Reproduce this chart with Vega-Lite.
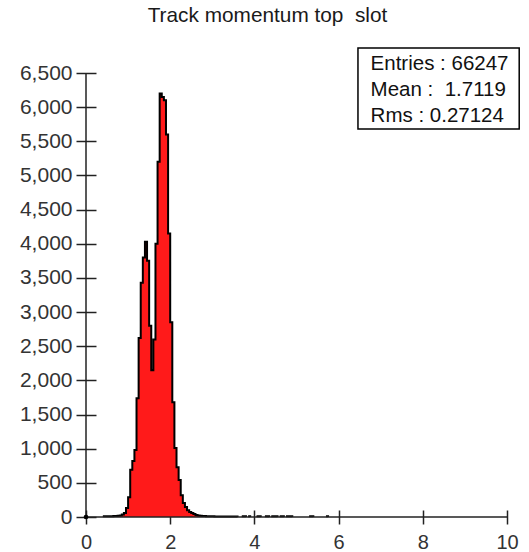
{
  "$schema": "https://vega.github.io/schema/vega-lite/v6.json",
  "width": 421,
  "height": 444,
  "autosize": "none",
  "padding": {"left": 86, "top": 73, "right": 22, "bottom": 35},
  "background": "white",
  "title": {
    "text": "Track momentum top\u00a0 slot",
    "font": "Liberation Sans",
    "fontSize": 20.8,
    "fontWeight": "normal",
    "color": "#1a1a1a",
    "anchor": "middle",
    "dx": -29,
    "baseline": "alphabetic",
    "offset": 4
  },
  "config": {
    "view": {"stroke": null},
    "font": "Liberation Sans"
  },
  "data": {
    "values": [
      {"p": 0.40, "n": 10, "seg": "main"},
      {"p": 0.45, "n": 10, "seg": "main"},
      {"p": 0.50, "n": 10, "seg": "main"},
      {"p": 0.55, "n": 12, "seg": "main"},
      {"p": 0.60, "n": 12, "seg": "main"},
      {"p": 0.65, "n": 14, "seg": "main"},
      {"p": 0.70, "n": 15, "seg": "main"},
      {"p": 0.75, "n": 18, "seg": "main"},
      {"p": 0.80, "n": 22, "seg": "main"},
      {"p": 0.85, "n": 35, "seg": "main"},
      {"p": 0.90, "n": 60, "seg": "main"},
      {"p": 0.95, "n": 130, "seg": "main"},
      {"p": 1.00, "n": 290, "seg": "main"},
      {"p": 1.05, "n": 690, "seg": "main"},
      {"p": 1.10, "n": 820, "seg": "main"},
      {"p": 1.15, "n": 980, "seg": "main"},
      {"p": 1.20, "n": 1740, "seg": "main"},
      {"p": 1.25, "n": 2620, "seg": "main"},
      {"p": 1.30, "n": 3430, "seg": "main"},
      {"p": 1.35, "n": 3800, "seg": "main"},
      {"p": 1.40, "n": 4030, "seg": "main"},
      {"p": 1.45, "n": 3750, "seg": "main"},
      {"p": 1.50, "n": 2800, "seg": "main"},
      {"p": 1.55, "n": 2150, "seg": "main"},
      {"p": 1.60, "n": 2600, "seg": "main"},
      {"p": 1.65, "n": 4000, "seg": "main"},
      {"p": 1.70, "n": 5200, "seg": "main"},
      {"p": 1.75, "n": 6200, "seg": "main"},
      {"p": 1.80, "n": 6150, "seg": "main"},
      {"p": 1.85, "n": 6100, "seg": "main"},
      {"p": 1.90, "n": 5600, "seg": "main"},
      {"p": 1.95, "n": 4150, "seg": "main"},
      {"p": 2.00, "n": 2850, "seg": "main"},
      {"p": 2.05, "n": 1680, "seg": "main"},
      {"p": 2.10, "n": 1010, "seg": "main"},
      {"p": 2.15, "n": 730, "seg": "main"},
      {"p": 2.20, "n": 540, "seg": "main"},
      {"p": 2.25, "n": 320, "seg": "main"},
      {"p": 2.30, "n": 205, "seg": "main"},
      {"p": 2.35, "n": 146, "seg": "main"},
      {"p": 2.40, "n": 100, "seg": "main"},
      {"p": 2.45, "n": 73, "seg": "main"},
      {"p": 2.50, "n": 58, "seg": "main"},
      {"p": 2.55, "n": 44, "seg": "main"},
      {"p": 2.60, "n": 30, "seg": "main"},
      {"p": 2.65, "n": 22, "seg": "main"},
      {"p": 2.70, "n": 18, "seg": "main"},
      {"p": 2.75, "n": 15, "seg": "main"},
      {"p": 2.80, "n": 14, "seg": "main"},
      {"p": 2.85, "n": 12, "seg": "main"},
      {"p": 2.90, "n": 12, "seg": "main"},
      {"p": 2.95, "n": 10, "seg": "main"},
      {"p": 3.00, "n": 10, "seg": "main"},
      {"p": 3.05, "n": 9, "seg": "main"},
      {"p": 3.10, "n": 9, "seg": "main"},
      {"p": 3.15, "n": 8, "seg": "main"},
      {"p": 3.20, "n": 8, "seg": "main"},
      {"p": 3.25, "n": 8, "seg": "main"},
      {"p": 3.30, "n": 7, "seg": "main"},
      {"p": 3.35, "n": 7, "seg": "main"},
      {"p": 3.40, "n": 7, "seg": "main"},
      {"p": 3.45, "n": 6, "seg": "main"},
      {"p": 3.50, "n": 6, "seg": "main"},
      {"p": 3.55, "n": 6, "seg": "main"},
      {"p": 3.60, "n": 0, "seg": "main"},
      {"p": 3.70, "n": 12, "seg": "t1"},
      {"p": 3.75, "n": 12, "seg": "t1"},
      {"p": 3.80, "n": 0, "seg": "t1"},
      {"p": 3.85, "n": 10, "seg": "t2"},
      {"p": 3.90, "n": 0, "seg": "t2"},
      {"p": 4.05, "n": 12, "seg": "t3"},
      {"p": 4.10, "n": 12, "seg": "t3"},
      {"p": 4.15, "n": 0, "seg": "t3"},
      {"p": 4.25, "n": 10, "seg": "t4"},
      {"p": 4.30, "n": 10, "seg": "t4"},
      {"p": 4.35, "n": 0, "seg": "t4"},
      {"p": 4.40, "n": 12, "seg": "t5"},
      {"p": 4.45, "n": 12, "seg": "t5"},
      {"p": 4.50, "n": 12, "seg": "t5"},
      {"p": 4.55, "n": 0, "seg": "t5"},
      {"p": 4.60, "n": 10, "seg": "t6"},
      {"p": 4.65, "n": 10, "seg": "t6"},
      {"p": 4.70, "n": 0, "seg": "t6"},
      {"p": 4.75, "n": 12, "seg": "t7"},
      {"p": 4.80, "n": 12, "seg": "t7"},
      {"p": 4.85, "n": 12, "seg": "t7"},
      {"p": 4.90, "n": 0, "seg": "t7"},
      {"p": 5.30, "n": 10, "seg": "t8"},
      {"p": 5.35, "n": 10, "seg": "t8"},
      {"p": 5.40, "n": 0, "seg": "t8"},
      {"p": 5.70, "n": 10, "seg": "t9"},
      {"p": 5.75, "n": 0, "seg": "t9"}
    ]
  },
  "layer": [
    {
      "encoding": {
        "x": {
          "field": "p", "type": "quantitative",
          "scale": {"domain": [0, 10], "nice": false, "zero": false},
          "axis": {
            "title": null, "values": [0, 2, 4, 6, 8, 10], "tickCount": 6, "format": "d",
            "offset": -7, "tickSize": 14, "tickWidth": 1.5, "tickColor": "#222222",
            "domain": false, "grid": false, "labelOverlap": false,
            "labelFont": "Liberation Sans", "labelFontSize": 20, "labelColor": "#333333",
            "labelPadding": 8, "labelFlush": false
          }
        },
        "y": {
          "field": "n", "type": "quantitative", "stack": null,
          "scale": {"domain": [0, 6500], "nice": false},
          "axis": {
            "title": null, "values": [0, 500, 1000, 1500, 2000, 2500, 3000, 3500, 4000, 4500, 5000, 5500, 6000, 6500],
            "tickCount": 14,
            "format": ",d",
            "offset": -10, "tickSize": 20, "tickWidth": 1.5, "tickColor": "#222222",
            "domain": false, "grid": false, "labelOverlap": false,
            "labelFont": "Liberation Sans", "labelFontSize": 21, "labelColor": "#333333",
            "labelPadding": 4, "labelFlush": false
          }
        },
        "detail": {"field": "seg"}
      },
      "layer": [
        {"mark": {"type": "area", "interpolate": "step-after", "color": "#ff1a1a", "clip": false}},
        {"mark": {"type": "line", "interpolate": "step-after", "color": "#000000", "strokeWidth": 2, "clip": false}}
      ]
    },
    {
      "data": {"values": [{}]},
      "mark": {"type": "rule", "color": "#222222", "strokeWidth": 1.5},
      "encoding": {"y": {"datum": 0}}
    },
    {
      "data": {"values": [{}]},
      "mark": {"type": "rule", "color": "#222222", "strokeWidth": 1.5},
      "encoding": {"x": {"datum": 0}}
    },
    {
      "data": {"values": [{}]},
      "mark": {"type": "circle", "color": "#000000", "size": 22, "opacity": 1},
      "encoding": {"x": {"datum": 0}, "y": {"datum": 0}}
    },
    {
      "data": {"values": [{}]},
      "mark": {"type": "rect", "fill": "white", "stroke": "#000000", "strokeWidth": 1.5, "clip": false},
      "encoding": {
        "x": {"datum": 6.46}, "x2": {"datum": 10.29},
        "y": {"datum": 6866}, "y2": {"datum": 5680}
      }
    },
    {
      "data": {"values": [{}]},
      "mark": {
        "type": "text", "align": "left", "baseline": "alphabetic",
        "font": "Liberation Sans", "fontSize": 20.5, "color": "#111111",
        "lineHeight": 26, "clip": false
      },
      "encoding": {
        "x": {"datum": 6.76}, "y": {"datum": 6540},
        "text": {"value": ["Entries : 66247", "Mean :\u00a0 1.7119", "Rms : 0.27124"]}
      }
    }
  ]
}
